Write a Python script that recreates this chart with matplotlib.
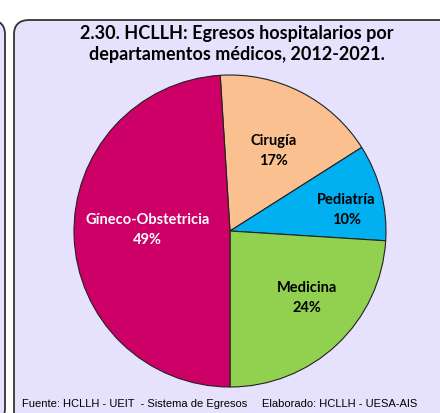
import matplotlib
matplotlib.use("Agg")
import matplotlib.pyplot as plt
from matplotlib.patches import FancyBboxPatch
import numpy as np

categories = ["Cirugía", "Pediatría", "Medicina", "Gíneco-Obstetricia"]
values = [17, 10, 24, 49]
colors = ["#FAC090", "#00B0F0", "#92D050", "#CC0066"]
text_colors = ["black", "black", "black", "white"]
title = "2.30. HCLLH: Egresos hospitalarios por\ndepartamentos médicos, 2012-2021."
source = "Fuente: HCLLH - UEIT  - Sistema de Egresos"
credit = "Elaborado: HCLLH - UESA-AIS"

W, H = 440, 414
fig = plt.figure(figsize=(W/100, H/100), dpi=100)
fig.patch.set_facecolor("white")

bg = "#E6E1FC"
# main panel
panel = FancyBboxPatch((14/W, -30/H), 440/W, (414-6+30-15)/H,
                       boxstyle="round,pad=0,rounding_size=0.035",
                       transform=fig.transFigure, facecolor=bg,
                       edgecolor="#333333", linewidth=1.3, zorder=-10)
fig.patches.append(panel)
# neighbouring panel edge on the left
panel2 = FancyBboxPatch((-400/W, -10/H), 405/W, (414-6+10-15)/H,
                        boxstyle="round,pad=0,rounding_size=0.035",
                        transform=fig.transFigure, facecolor=bg,
                        edgecolor="#333333", linewidth=1.3, zorder=-10)
fig.patches.append(panel2)

cx, cy, r = 230, 232, 156
ax = fig.add_axes([(cx-r)/W, (H-cy-r)/H, 2*r/W, 2*r/H])
ax.set_facecolor("none")
ax.set_zorder(5)
wedges, _ = ax.pie(values, colors=colors, startangle=93.6, counterclock=False,
                   wedgeprops=dict(edgecolor="#222222", linewidth=0.8))
ax.set_aspect("equal")
ax.set_xlim(-1, 1); ax.set_ylim(-1, 1)
ax.axis("off")

dists = [0.59, 0.76, 0.65, 0.53]
angle_shift = [-1, -3.5, 6, -3]
for w, cat, v, d, tc, sh in zip(wedges, categories, values, dists, text_colors, angle_shift):
    ang = np.deg2rad((w.theta1 + w.theta2) / 2 + sh)
    ax.text(d*np.cos(ang), d*np.sin(ang), f"{cat}\n{v}%", ha="center", va="center",
            color=tc, fontsize=10.5, fontweight="bold", family=["Lato", "DejaVu Sans"],
            linespacing=1.55)

fig.text(237/W, 1-44/H, title, ha="center", va="center", fontsize=13,
         fontweight="bold", family=["Lato", "DejaVu Sans"], linespacing=1.3)
fig.text(22/W, 1-404/H, source, ha="left", va="center", fontsize=8,
         family=["Liberation Sans Narrow", "Liberation Sans", "DejaVu Sans"])
fig.text(417/W, 1-404/H, credit, ha="right", va="center", fontsize=8,
         family=["Liberation Sans Narrow", "Liberation Sans", "DejaVu Sans"])

fig.savefig("out.png", dpi=100)
